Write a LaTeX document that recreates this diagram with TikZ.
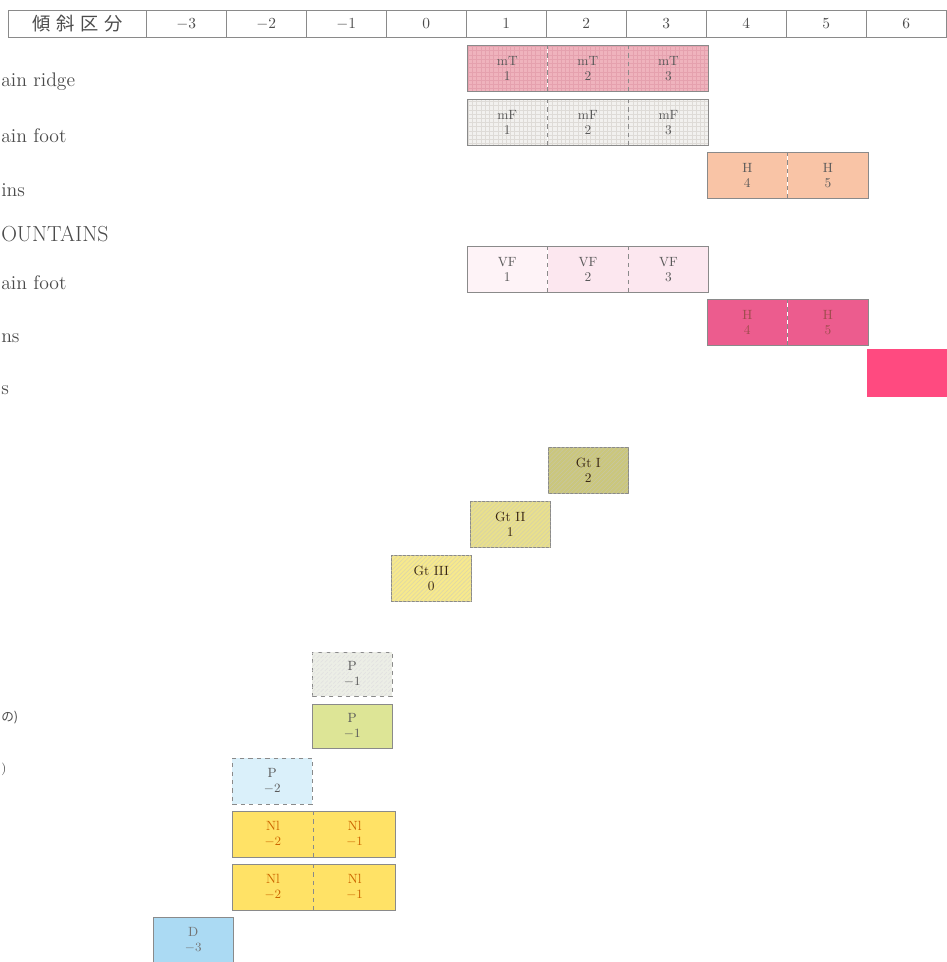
\documentclass[tikz,border=0pt]{standalone}
\usepackage{fontspec}
\newfontfamily\jpfont{Noto Sans CJK JP}
\usepackage{xcolor}
\usetikzlibrary{positioning, patterns}

\definecolor{mtpink}{HTML}{EFB3BD}
\definecolor{mtgrid}{HTML}{E5A1AE}
\definecolor{mfgray}{HTML}{F2F1EF}
\definecolor{mfgrid}{HTML}{DEDBD7}
\definecolor{hpeach}{HTML}{F9C4A6}
\definecolor{vfpink}{HTML}{FCE7EF}
\definecolor{hpink}{HTML}{EC5C8E}
\definecolor{hotpink}{HTML}{FF4A80}
\definecolor{gtone}{HTML}{CBC77C}
\definecolor{gttwo}{HTML}{E9E08C}
\definecolor{gtthree}{HTML}{F7E98C}
\definecolor{pgray}{HTML}{ECEEE6}
\definecolor{pgreen}{HTML}{DDE596}
\definecolor{pblue}{HTML}{DAF0FA}
\definecolor{nlyellow}{HTML}{FFE266}
\definecolor{dblue}{HTML}{ABDAF3}
\definecolor{framegray}{HTML}{8A8A8A}
\definecolor{labgray}{HTML}{4A4A4A}

\tikzset{
  cell/.style={minimum width=2cm, minimum height=1.15cm, inner sep=0pt,
    align=center, font=\fontsize{9.5}{10.5}\selectfont, text=black!65},
  hcell/.style={draw=framegray, minimum width=2cm, minimum height=0.68cm,
    inner sep=0pt, anchor=north west, text=black!70, font=\fontsize{10.5}{12}\selectfont},
  frame/.style={draw=framegray, line width=0.6pt},
  divider/.style={draw=framegray, dashed, line width=0.5pt},
  sidelabel/.style={anchor=west, inner sep=0pt, text=labgray,
    font=\fontsize{14}{16}\selectfont},
  mtfill/.style={fill=mtpink, postaction={pattern=grid, pattern color=mtgrid}},
  mffill/.style={fill=mfgray, postaction={pattern=grid, pattern color=mfgrid}},
  gtfill/.style={fill=#1, postaction={pattern=north east lines, pattern color=#1!80!black!60}},
}

\begin{document}
\begin{tikzpicture}[x=0.025cm, y=-0.025cm]
    \useasboundingbox (0,0) rectangle (947,962);

    % 見出し行
    \node[hcell, minimum width=3.45cm, anchor=north west, font=\jpfont\fontsize{13}{15}\selectfont]
        (hd) at (8,10) {傾\hspace{4pt}斜\hspace{4pt}区\hspace{4pt}分};
    \foreach \k [count=\i] in {-3,-2,-1,0,1,2,3,4,5,6} {
        \node[hcell] (h\i) at ({146+80*(\i-1)},10) {$\k$};
    }

    % 左側のラベル
    \node[sidelabel] (l1) at (1,82)  {ain\ ridge};
    \node[sidelabel] (l2) at (1,136) {ain\ foot};
    \node[sidelabel] (l3) at (1,190) {ins};
    \node[sidelabel, font=\fontsize{15.5}{18}\selectfont] (l4) at (1,234) {OUNTAINS};
    \node[sidelabel] (l5) at (1,283) {ain\ foot};
    \node[sidelabel] (l6) at (1,338) {ns};
    \node[sidelabel] (l7) at (1,390) {s};
    \node[sidelabel, font=\jpfont\fontsize{9}{11}\selectfont] (l8) at (1,718) {の)};
    \node[sidelabel, font=\fontsize{9}{11}\selectfont] (l9) at (1,769) {)};

    % mT
    \node[cell, mtfill, anchor=north west] (mt1) at (467,45) {mT\\1};
    \node[cell, mtfill, right=0pt of mt1] (mt2) {mT\\2};
    \node[cell, mtfill, right=0pt of mt2] (mt3) {mT\\3};
    \draw[frame] (mt1.north west) rectangle (mt3.south east);
    \draw[divider] (mt1.north east) -- (mt1.south east);
    \draw[divider] (mt2.north east) -- (mt2.south east);

    % mF
    \node[cell, mffill, anchor=north west] (mf1) at (467,99) {mF\\1};
    \node[cell, mffill, right=0pt of mf1] (mf2) {mF\\2};
    \node[cell, mffill, right=0pt of mf2] (mf3) {mF\\3};
    \draw[frame] (mf1.north west) rectangle (mf3.south east);
    \draw[divider] (mf1.north east) -- (mf1.south east);
    \draw[divider] (mf2.north east) -- (mf2.south east);

    % H (4,5)
    \node[cell, fill=hpeach, anchor=north west] (ha4) at (707,152) {H\\4};
    \node[cell, fill=hpeach, right=0pt of ha4] (ha5) {H\\5};
    \draw[frame] (ha4.north west) rectangle (ha5.south east);
    \draw[divider] (ha4.north east) -- (ha4.south east);

    % VF
    \node[cell, fill=vfpink!50, anchor=north west] (vf1) at (467,246) {VF\\1};
    \node[cell, fill=vfpink, right=0pt of vf1] (vf2) {VF\\2};
    \node[cell, fill=vfpink, right=0pt of vf2] (vf3) {VF\\3};
    \draw[frame] (vf1.north west) rectangle (vf3.south east);
    \draw[divider] (vf1.north east) -- (vf1.south east);
    \draw[divider] (vf2.north east) -- (vf2.south east);

    % H (4,5) 濃いピンク
    \node[cell, fill=hpink, text=black!55!red!70, anchor=north west] (hb4) at (707,299) {H\\4};
    \node[cell, fill=hpink, text=black!55!red!70, right=0pt of hb4] (hb5) {H\\5};
    \draw[frame] (hb4.north west) rectangle (hb5.south east);
    \draw[divider] (hb4.north east) -- (hb4.south east);

    \node[cell, fill=hotpink, minimum height=1.2cm, anchor=north west] (pk6) at (867,349) {};

    % Gt
    \node[cell, gtfill=gtone, draw=framegray, text=black!70!brown, anchor=north west] (gt1) at (548,447) {Gt I\\2};
    \node[cell, gtfill=gttwo, draw=framegray, text=black!70!brown, anchor=north west] (gt2) at (470,501) {Gt II\\1};
    \node[cell, gtfill=gtthree, draw=framegray, text=black!70!brown, anchor=north west] (gt3) at (391,555) {Gt III\\0};

    % P
    \node[cell, fill=pgray, postaction={pattern=north east lines, pattern color=black!12},
        draw=framegray, dashed, anchor=north west, minimum height=1.1cm] (pa) at (312,652) {P\\$-1$};
    \node[cell, fill=pgreen, draw=framegray, anchor=north west, minimum height=1.1cm] (pb) at (312,704) {P\\$-1$};
    \node[cell, fill=pblue, draw=framegray, dashed, anchor=north west] (pc) at (232,758) {P\\$-2$};

    % Nl
    \node[cell, fill=nlyellow, text=orange!80!black, anchor=north west, minimum width=2.03cm] (nla) at (232,811) {Nl\\$-2$};
    \node[cell, fill=nlyellow, text=orange!80!black, right=0pt of nla, minimum width=2.03cm] (nlb) {Nl\\$-1$};
    \draw[frame] (nla.north west) rectangle (nlb.south east);
    \draw[divider] (nla.north east) -- (nla.south east);

    \node[cell, fill=nlyellow, text=orange!80!black, anchor=north west, minimum width=2.03cm] (nlc) at (232,864) {Nl\\$-2$};
    \node[cell, fill=nlyellow, text=orange!80!black, right=0pt of nlc, minimum width=2.03cm] (nld) {Nl\\$-1$};
    \draw[frame] (nlc.north west) rectangle (nld.south east);
    \draw[divider] (nlc.north east) -- (nlc.south east);

    % D
    \node[cell, fill=dblue, draw=framegray, text=black!55, anchor=north west, minimum height=1.12cm] (d3) at (153,917) {D\\$-3$};

\end{tikzpicture}
\end{document}
